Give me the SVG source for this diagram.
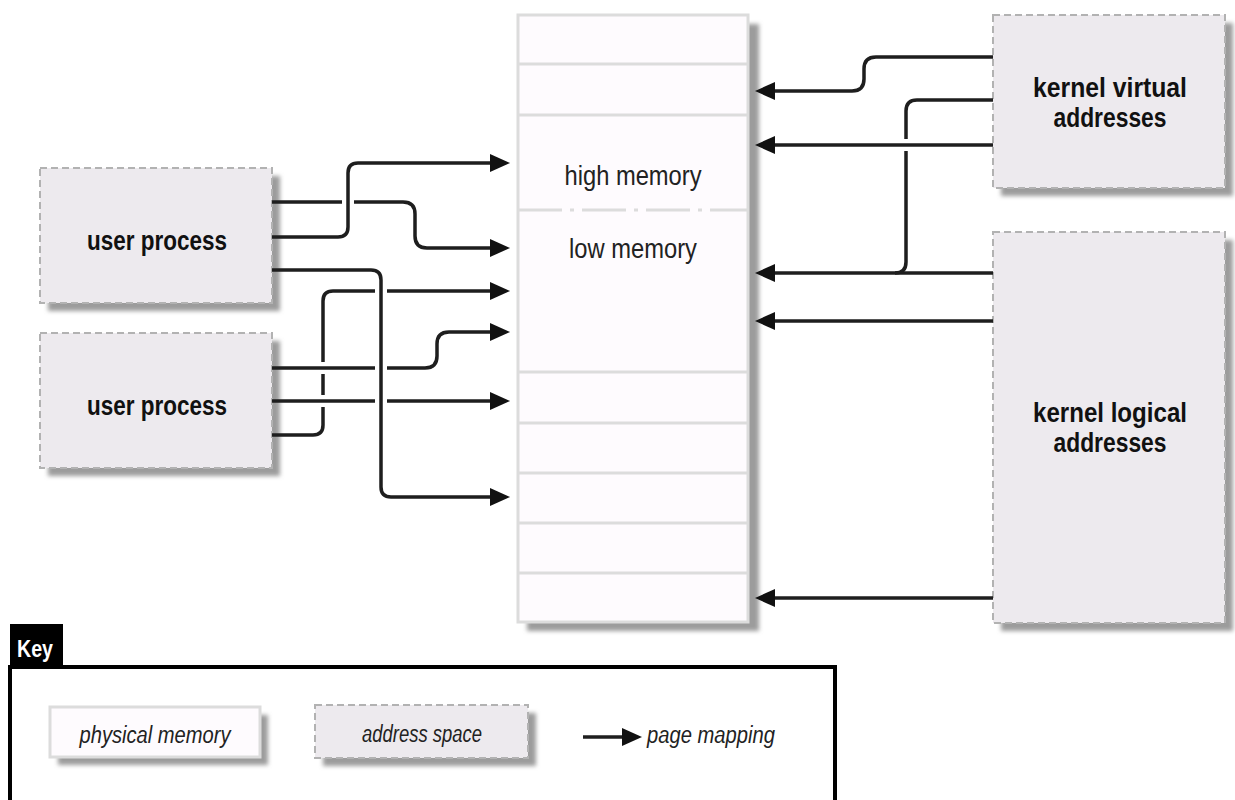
<svg xmlns="http://www.w3.org/2000/svg" width="1235" height="800" viewBox="0 0 1235 800">
<defs>
<style>
.addr{fill:#edeaee;stroke:#b2b2b2;stroke-width:2;stroke-dasharray:7 4}
.phys{fill:#fefbfe;stroke:#dcdcdc;stroke-width:3}
.shadow{fill:#9c9c9c;filter:url(#blur)}
.sep{stroke:#dcdcdc;stroke-width:3;fill:none}
.lbl{font-family:"Liberation Sans",Arial,sans-serif;font-weight:bold;font-size:28px;fill:#111;text-anchor:middle}
.mlbl{font-family:"Liberation Sans",Arial,sans-serif;font-size:28px;fill:#222;text-anchor:middle}
.klbl{font-family:"Liberation Sans",Arial,sans-serif;font-style:italic;font-size:23px;fill:#222}
.conn{fill:none;stroke:#1e1e1e;stroke-width:3.5}
.gap{fill:none;stroke:#ffffff;stroke-width:12}
</style>
<filter id="blur" x="-10%" y="-10%" width="120%" height="120%"><feGaussianBlur stdDeviation="2"/></filter>
<marker id="arr" markerUnits="userSpaceOnUse" markerWidth="20" markerHeight="18" refX="4" refY="9" orient="auto"><path d="M0,0 L20,9 L0,18 z" fill="#111"/></marker>
</defs>

<!-- physical memory column -->
<g id="memory">
<rect class="shadow" x="527" y="24" width="232" height="607"/>
<rect class="phys" x="518" y="15" width="230" height="607"/>
<path class="sep" d="M518,64 H748 M518,115 H748 M518,372 H748 M518,423 H748 M518,473 H748 M518,523 H748 M518,573 H748"/>
<path class="sep" d="M518,210 H748" stroke-dasharray="44 8 4 8"/>
<text class="mlbl" x="633" y="185" textLength="137" lengthAdjust="spacingAndGlyphs">high memory</text>
<text class="mlbl" x="633" y="258" textLength="128" lengthAdjust="spacingAndGlyphs">low memory</text>
</g>

<g id="user1">
<rect class="shadow" x="48" y="176" width="232" height="135"/>
<rect class="addr" x="40" y="168" width="232" height="135"/>
<text class="lbl" x="157" y="250" textLength="140" lengthAdjust="spacingAndGlyphs">user process</text>
</g>

<g id="user2">
<rect class="shadow" x="48" y="341" width="232" height="135"/>
<rect class="addr" x="40" y="333" width="232" height="135"/>
<text class="lbl" x="157" y="415" textLength="140" lengthAdjust="spacingAndGlyphs">user process</text>
</g>

<g id="kvirtual">
<rect class="shadow" x="1001" y="23" width="232" height="173"/>
<rect class="addr" x="993" y="15" width="232" height="173"/>
<text class="lbl" x="1110" y="97" textLength="154" lengthAdjust="spacingAndGlyphs">kernel virtual</text>
<text class="lbl" x="1110" y="127" textLength="113" lengthAdjust="spacingAndGlyphs">addresses</text>
</g>

<g id="klogical">
<rect class="shadow" x="1001" y="240" width="232" height="391"/>
<rect class="addr" x="993" y="232" width="232" height="391"/>
<text class="lbl" x="1110" y="422" textLength="154" lengthAdjust="spacingAndGlyphs">kernel logical</text>
<text class="lbl" x="1110" y="452" textLength="113" lengthAdjust="spacingAndGlyphs">addresses</text>
</g>

<g id="connectors">
<!-- user process 2 -->
<path class="conn" d="M272,435 H313 Q323,435 323,425 V301 Q323,291 333,291 H494" marker-end="url(#arr)"/>
<path class="gap" d="M316,368 H330 M316,401 H330"/>
<path class="conn" d="M272,368 H425 Q437,368 437,356 V344 Q437,332 449,332 H494" marker-end="url(#arr)"/>
<path class="conn" d="M272,401 H494" marker-end="url(#arr)"/>
<!-- user process 1 -->
<path class="conn" d="M272,202 H403 Q415,202 415,214 V236 Q415,248 427,248 H494" marker-end="url(#arr)"/>
<path class="gap" d="M381,284 V298 M381,361 V375 M381,394 V408" stroke-width="16"/>
<path class="conn" d="M272,270 H371 Q381,270 381,280 V487 Q381,497 391,497 H494" marker-end="url(#arr)"/>
<path class="gap" d="M348,195 V209" stroke-width="16"/>
<path class="conn" d="M272,237 H338 Q348,237 348,227 V173 Q348,163 358,163 H494" marker-end="url(#arr)"/>
<!-- kernel side -->
<path class="conn" d="M993,57 H876 Q864,57 864,69 V79 Q864,91 852,91 H771" marker-end="url(#arr)"/>
<path class="conn" d="M993,100 H917 Q906,100 906,111 V262 Q906,273 895,273"/>
<path class="conn" d="M993,273 H771" marker-end="url(#arr)"/>
<path class="gap" d="M899,145 H913"/>
<path class="conn" d="M993,145 H771" marker-end="url(#arr)"/>
<path class="conn" d="M993,321 H771" marker-end="url(#arr)"/>
<path class="conn" d="M993,598 H771" marker-end="url(#arr)"/>
</g>

<g id="key">
<rect x="10" y="624" width="53" height="44" fill="#000"/>
<text x="35" y="657" font-family="Liberation Sans, Arial, sans-serif" font-weight="bold" font-size="24" fill="#fff" text-anchor="middle" textLength="36" lengthAdjust="spacingAndGlyphs">Key</text>
<path d="M10,800 V667 H835 V800" fill="none" stroke="#000" stroke-width="4"/>
<g id="key-physical">
<rect class="shadow" x="58" y="715" width="210" height="50"/>
<rect class="phys" x="50" y="707" width="210" height="50"/>
<text class="klbl" x="155" y="743" text-anchor="middle" textLength="151" lengthAdjust="spacingAndGlyphs">physical memory</text>
</g>
<g id="key-address">
<rect class="shadow" x="323" y="713" width="213" height="53"/>
<rect class="addr" x="315" y="705" width="213" height="53"/>
<text class="klbl" x="422" y="742" text-anchor="middle" textLength="120" lengthAdjust="spacingAndGlyphs">address space</text>
</g>
<g id="key-mapping">
<path class="conn" d="M583,737 H626" marker-end="url(#arr)"/>
<text class="klbl" x="647" y="743" textLength="128" lengthAdjust="spacingAndGlyphs">page mapping</text>
</g>
</g>
</svg>
